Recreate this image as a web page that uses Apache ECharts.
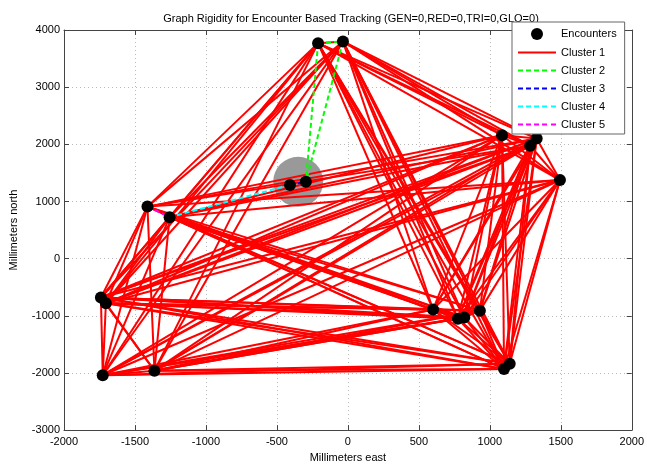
<!DOCTYPE html>
<html>
<head>
<meta charset="utf-8">
<script src="https://cdn.jsdelivr.net/npm/echarts@6/dist/echarts.min.js"></script>
<style>
  html, body { margin: 0; padding: 0; background: #fff; }
  #chart { width: 647px; height: 468px; }
</style>
</head>
<body>
<div id="chart"></div>
<script>
// Encounter positions (millimeters east / north)
const nodeX = [-210, -35, -408, -296, -1412, -1256, -1740, -1705, -1727, -1363,
               600, 775, 820, 930, 1100, 1140, 1086, 1330, 1284, 1494];
const nodeY = [3770, 3800, 1290, 1345, 910, 725, -680, -780, -2040, -1960,
               -890, -1050, -1030, -910, -1930, -1840, 2160, 2100, 1975, 1375];

// Rigid clusters as pairs of encounter indices
const cluster1Edges = [
  [0,1],[0,4],[0,5],[0,6],[0,7],[0,8],[0,9],[0,10],[0,11],[0,12],[0,13],[0,14],[0,15],[0,16],[0,17],[0,18],[0,19],
  [1,4],[1,5],[1,6],[1,7],[1,8],[1,9],[1,10],[1,11],[1,12],[1,13],[1,14],[1,15],[1,16],[1,17],[1,18],[1,19],
  [4,6],[4,7],[4,8],[4,9],[4,10],[4,11],[4,12],[4,13],[4,14],[4,15],[4,16],[4,17],[4,18],[4,19],
  [5,6],[5,7],[5,8],[5,9],[5,10],[5,11],[5,12],[5,13],[5,14],[5,15],[5,16],[5,17],[5,18],[5,19],
  [6,7],[6,8],[6,9],[6,10],[6,11],[6,12],[6,13],[6,14],[6,15],[6,16],[6,17],[6,18],[6,19],
  [7,8],[7,9],[7,10],[7,11],[7,12],[7,13],[7,14],[7,15],[7,16],[7,17],[7,18],[7,19],
  [8,9],[8,10],[8,11],[8,12],[8,13],[8,14],[8,15],[8,16],[8,17],[8,18],[8,19],
  [9,10],[9,11],[9,12],[9,13],[9,14],[9,15],[9,16],[9,17],[9,18],[9,19],
  [10,11],[10,12],[10,13],[10,14],[10,15],[10,16],[10,17],[10,18],[10,19],
  [11,12],[11,13],[11,14],[11,15],[11,16],[11,17],[11,18],[11,19],
  [12,13],[12,14],[12,15],[12,16],[12,17],[12,18],[12,19],
  [13,14],[13,15],[13,16],[13,17],[13,18],[13,19],
  [14,15],[14,16],[14,17],[14,18],[14,19],
  [15,16],[15,17],[15,18],[15,19],
  [16,17],[16,18],[16,19],
  [17,18],[17,19],
  [18,19]
];
const cluster2Edges = [[0,1],[0,3],[1,3]];
const cluster3Edges = [[2,3]];
const cluster4Edges = [[2,5]];
const cluster5Edges = [[4,5]];

// Highlighted encounter region (center, mm)
const focusX = [-350];
const focusY = [1345];

const clusterNames = ['Cluster 1', 'Cluster 2', 'Cluster 3', 'Cluster 4', 'Cluster 5'];
const clusterColors = ['#ff0000', '#00ff00', '#0000ff', '#00ffff', '#ff00ff'];
const clusterEdges = [cluster1Edges, cluster2Edges, cluster3Edges, cluster4Edges, cluster5Edges];

const xTicks = { min: -2000, max: 2000, step: 500 };
const yTicks = { min: -3000, max: 4000, step: 1000 };

const FONT = '"Liberation Sans", Arial, Helvetica, sans-serif';

function edgeData(edges) {
  return edges.map(function (e) {
    return { coords: [[nodeX[e[0]], nodeY[e[0]]], [nodeX[e[1]], nodeY[e[1]]]] };
  });
}

const solidIcon = 'path://M0,0h38v2h-38z';
const dashedIcon = 'path://M0,0h5v2h-5z M8,0h5v2h-5z M16,0h5v2h-5z M24,0h5v2h-5z M33,0h5v2h-5z';

const chart = echarts.init(document.getElementById('chart'), null, { renderer: 'canvas' });

const series = [
  {
    name: 'focus',
    type: 'scatter',
    data: focusX.map(function (x, i) { return [x, focusY[i]]; }),
    symbolSize: 50,
    itemStyle: { color: '#999999', opacity: 1 },
    silent: true,
    z: 1
  }
];
clusterEdges.forEach(function (edges, k) {
  series.push({
    name: clusterNames[k],
    type: 'lines',
    coordinateSystem: 'cartesian2d',
    data: edgeData(edges),
    lineStyle: {
      color: clusterColors[k],
      width: 2,
      opacity: 1,
      type: k === 0 ? 'solid' : [5, 3]
    },
    z: 2 + k
  });
});
series.push({
  name: 'Encounters',
  type: 'scatter',
  data: nodeX.map(function (x, i) { return [x, nodeY[i]]; }),
  symbolSize: 12,
  itemStyle: { color: '#000', opacity: 1 },
  z: 10
});

const axisLineStyle = { color: '#444', width: 1 };
const splitStyle = { show: true, lineStyle: { color: '#b8b8b8', type: [1, 3], width: 1 } };
const plainLabel = function (v) { return String(v); };

const legendIcon = function (name, icon, color) {
  return { name: name, icon: icon, itemStyle: { color: color, borderWidth: 0, opacity: 1 } };
};

chart.setOption({
  animation: false,
  backgroundColor: '#fff',
  title: {
    text: 'Graph Rigidity for Encounter Based Tracking (GEN=0,RED=0,TRI=0,GLO=0)',
    left: 346,
    textAlign: 'center',
    top: 8,
    textStyle: { fontFamily: FONT, fontSize: 11, fontWeight: 'normal', color: '#000' }
  },
  grid: { left: 61, right: 15, top: 30, bottom: 32, containLabel: false },
  legend: {
    orient: 'vertical',
    left: 512,
    top: 22,
    backgroundColor: '#fff',
    borderColor: '#666',
    borderWidth: 1,
    padding: [6, 8, 4, 6],
    itemWidth: 38,
    itemHeight: 12,
    itemGap: 7,
    symbolKeepAspect: true,
    textStyle: { fontFamily: FONT, fontSize: 11, color: '#000' },
    data: [
      legendIcon('Encounters', 'circle', '#000'),
      legendIcon('Cluster 1', solidIcon, clusterColors[0]),
      legendIcon('Cluster 2', dashedIcon, clusterColors[1]),
      legendIcon('Cluster 3', dashedIcon, clusterColors[2]),
      legendIcon('Cluster 4', dashedIcon, clusterColors[3]),
      legendIcon('Cluster 5', dashedIcon, clusterColors[4])
    ],
    z: 20
  },
  xAxis: [
    {
      type: 'value', position: 'bottom',
      min: xTicks.min, max: xTicks.max, interval: xTicks.step,
      name: 'Millimeters east', nameLocation: 'middle', nameGap: 15,
      nameTextStyle: { fontFamily: FONT, fontSize: 11, color: '#000' },
      axisLine: { show: true, onZero: false, lineStyle: axisLineStyle },
      axisTick: { show: true, inside: true, length: 5, lineStyle: axisLineStyle },
      axisLabel: { fontFamily: FONT, fontSize: 11, color: '#000', margin: 6, formatter: plainLabel },
      splitLine: splitStyle
    },
    {
      type: 'value', position: 'top',
      min: xTicks.min, max: xTicks.max, interval: xTicks.step,
      axisLine: { show: true, onZero: false, lineStyle: axisLineStyle },
      axisTick: { show: true, inside: true, length: 5, lineStyle: axisLineStyle },
      axisLabel: { show: false },
      splitLine: { show: false }
    }
  ],
  yAxis: [
    {
      type: 'value', position: 'left',
      min: yTicks.min, max: yTicks.max, interval: yTicks.step,
      name: 'Millimeters north', nameLocation: 'middle', nameGap: 45,
      nameTextStyle: { fontFamily: FONT, fontSize: 11, color: '#000' },
      axisLine: { show: true, onZero: false, lineStyle: axisLineStyle },
      axisTick: { show: true, inside: true, length: 5, lineStyle: axisLineStyle },
      axisLabel: { fontFamily: FONT, fontSize: 11, color: '#000', margin: 4, formatter: plainLabel },
      splitLine: splitStyle
    },
    {
      type: 'value', position: 'right',
      min: yTicks.min, max: yTicks.max, interval: yTicks.step,
      axisLine: { show: true, onZero: false, lineStyle: axisLineStyle },
      axisTick: { show: true, inside: true, length: 5, lineStyle: axisLineStyle },
      axisLabel: { show: false },
      splitLine: { show: false }
    }
  ],
  series: series
});
</script>
</body>
</html>
